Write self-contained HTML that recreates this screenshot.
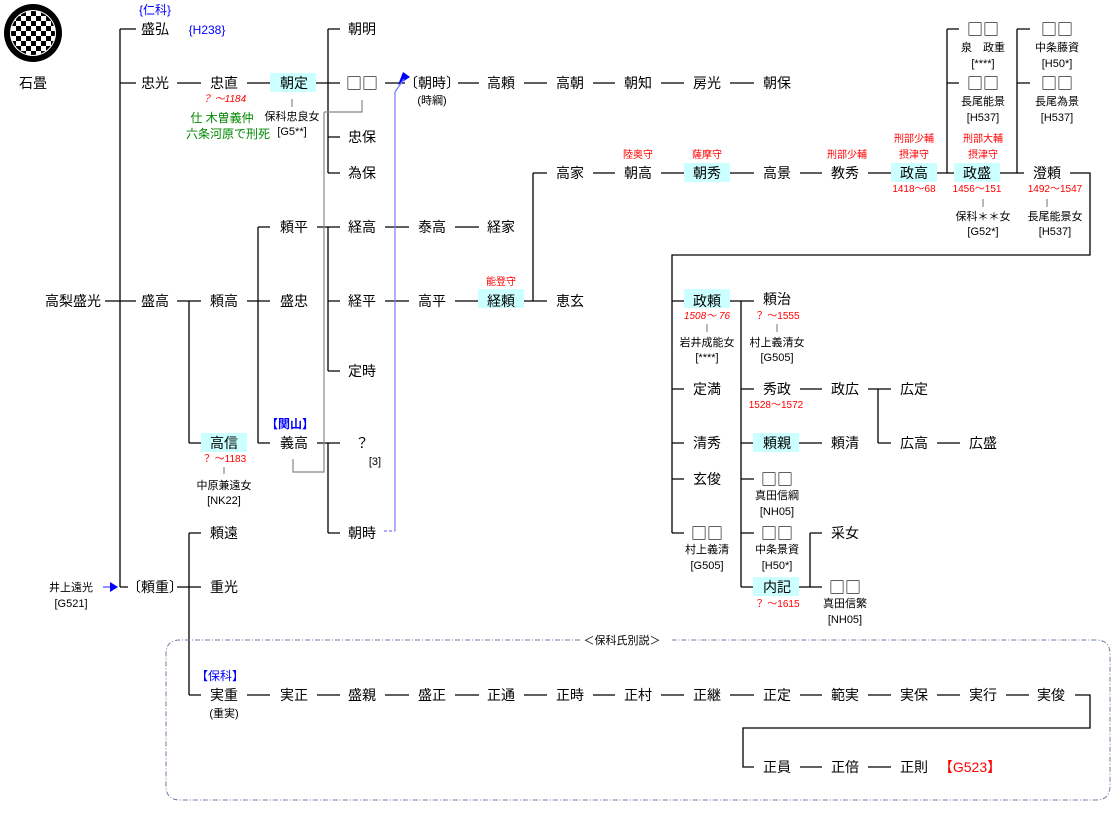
<!DOCTYPE html>
<html><head><meta charset="utf-8"><style>
html,body{margin:0;padding:0;background:#fff;}
svg{display:block;font-family:"Liberation Sans","Noto Sans CJK JP",sans-serif;}
.n{font-size:14px;fill:#000;text-anchor:middle;}
.s{font-size:11px;fill:#000;text-anchor:middle;}
.r{font-size:10px;fill:#f00;text-anchor:middle;}
.ri{font-size:10px;fill:#f00;text-anchor:middle;font-style:italic;}
.b{font-size:12px;fill:#00f;text-anchor:middle;}
.g{font-size:12px;fill:#080;text-anchor:middle;}
.q{font-family:"Noto Sans CJK JP",sans-serif;font-size:16px;fill:#000;text-anchor:middle;}
.l{stroke:#000;stroke-width:1.3;fill:none;}
.gr{stroke:#888;stroke-width:1.2;fill:none;}
.hl{fill:#ccffff;}
</style></head><body>
<svg width="1115" height="821" viewBox="0 0 1115 821" xmlns="http://www.w3.org/2000/svg">
<defs><clipPath id="cc"><circle cx="33" cy="33" r="22"/></clipPath>
<pattern id="ck" x="11" y="11" width="10" height="10" patternUnits="userSpaceOnUse"><rect width="10" height="10" fill="#fff"/><rect width="5" height="5" fill="#000"/><rect x="5" y="5" width="5" height="5" fill="#000"/></pattern></defs>
<circle cx="33" cy="33" r="29" fill="#000"/>
<circle cx="33" cy="33" r="23" fill="#fff"/>
<rect x="10" y="10" width="46" height="46" fill="url(#ck)" clip-path="url(#cc)"/>
<text class="n" x="33" y="88" font-size="13">石畳</text>

<rect class="hl" x="270" y="73" width="46" height="19"/>
<rect class="hl" x="684" y="163" width="46" height="19"/>
<rect class="hl" x="891" y="163" width="46" height="19"/>
<rect class="hl" x="954" y="163" width="46" height="19"/>
<rect class="hl" x="478" y="289" width="46" height="19"/>
<rect class="hl" x="684" y="289" width="46" height="19"/>
<rect class="hl" x="201" y="433" width="46" height="19"/>
<rect class="hl" x="753" y="433" width="46" height="19"/>
<rect class="hl" x="753" y="577" width="46" height="19"/>

<g class="l">
<path d="M120 29V587"/>
<path d="M120 29H136M120 83H136M105 301H136M120 587H128"/>
<path d="M177 83H201M247 83H270M316 83H340M385 83H405M458 83H479M524 83H547M593 83H615M661 83H684M730 83H754"/>
<path d="M328 29V173M328 29H340M328 137H340M328 173H340"/>
<path d="M533 173V301M533 173H547M524 301H547"/>
<path d="M593 173H615M661 173H684M730 173H754M800 173H822M868 173H891M937 173H954M1000 173H1024M1070 173H1090V255H672V533"/>
<path d="M947 29V173M947 29H959M947 83H959M1017 29V173M1017 29H1030M1017 83H1030"/>
<path d="M177 301H201M189 301V443M189 443H201M247 301H270M258 227V443M258 227H270M258 443H270"/>
<path d="M317 227H340M328 227V371M328 301H340M328 371H340M385 227H409M455 227H479M385 301H409M455 301H478"/>
<path d="M317 443H340M328 443V533M328 533H340"/>
<path d="M177 587H201M189 533V695M189 533H201M189 695H201"/>
<path d="M247 695H270M317 695H340M385 695H409M455 695H479M524 695H547M593 695H615M661 695H684M730 695H754M800 695H822M868 695H891M937 695H960M1006 695H1029M1075 695H1090V728H743V767H754M800 767H822M868 767H891"/>
<path d="M672 301H684M672 389H684M672 443H684M672 479H684M672 533H684"/>
<path d="M730 301H754M741 301V587M741 389H754M741 443H753M741 479H754M741 533H754M741 587H753"/>
<path d="M800 389H822M868 389H891M878 389V443M878 443H891M937 443H960M799 443H822"/>
<path d="M799 587H822M810 533V587M810 533H822"/>
</g>
<g class="gr">
<path d="M292 99V107M362 100V112H324M324 112V472H293V459"/>
<path d="M224 467V474M707 324V332M777 324V332M983 199V207M1047 199V207"/>
</g>
<path d="M395 531V92" stroke="#7777ff" stroke-width="1.2" fill="none"/>
<path d="M384 531H395" stroke="#7777ff" stroke-width="1.2" stroke-dasharray="3,2" fill="none"/>
<path d="M403 72L410 77L398 85Z" fill="#00f"/>
<path d="M395 92L404 79" stroke="#7777ff" stroke-width="1.2"/>
<path d="M103 587H112" stroke="#44f" stroke-width="1.2"/>
<path d="M110 582L118 587L110 592Z" fill="#00f"/>
<path d="M580 640H180Q166 640 166 654V786Q166 800 180 800H1096Q1110 800 1110 786V654Q1110 640 1096 640H672" stroke="#6b7fa0" stroke-width="1" stroke-dasharray="5,2,1,2" fill="none"/>
<text class="s" x="622" y="644">＜保科氏別説＞</text>

<text class="b" x="155" y="14" font-size="11">{仁科}</text>
<text class="n" x="155" y="34">盛弘</text>
<text class="b" x="207" y="34" font-size="13">{H238}</text>
<text class="n" x="362" y="34">朝明</text>
<text class="n" x="155" y="88">忠光</text>
<text class="n" x="224" y="88">忠直</text>
<text class="n" x="294" y="88">朝定</text>
<text class="q" x="362" y="89">□□</text>
<text class="n" x="432" y="88">〔朝時〕</text>
<text class="s" x="432" y="104">(時綱)</text>
<text class="n" x="501" y="88">高頼</text>
<text class="n" x="570" y="88">高朝</text>
<text class="n" x="638" y="88">朝知</text>
<text class="n" x="707" y="88">房光</text>
<text class="n" x="777" y="88">朝保</text>
<text class="ri" x="224" y="102">？ ～1184</text>
<text class="s" x="292" y="120" font-size="12">保科忠良女</text>
<text class="s" x="292" y="135">[G5**]</text>
<text class="g" x="222" y="122">仕 木曽義仲</text>
<text class="g" x="228" y="138">六条河原で刑死</text>
<text class="n" x="362" y="142">忠保</text>
<text class="n" x="362" y="178">為保</text>

<text class="q" x="983" y="35">□□</text>
<text class="s" x="983" y="51" font-size="12">泉　政重</text>
<text class="s" x="983" y="67">[****]</text>
<text class="q" x="983" y="89">□□</text>
<text class="s" x="983" y="105" font-size="12">長尾能景</text>
<text class="s" x="983" y="121">[H537]</text>
<text class="q" x="1057" y="35">□□</text>
<text class="s" x="1057" y="51" font-size="12">中条藤資</text>
<text class="s" x="1057" y="67">[H50*]</text>
<text class="q" x="1057" y="89">□□</text>
<text class="s" x="1057" y="105" font-size="12">長尾為景</text>
<text class="s" x="1057" y="121">[H537]</text>

<text class="r" x="914" y="142">刑部少輔</text>
<text class="r" x="914" y="158">摂津守</text>
<text class="r" x="983" y="142">刑部大輔</text>
<text class="r" x="983" y="158">摂津守</text>
<text class="r" x="847" y="158">刑部少輔</text>
<text class="r" x="638" y="158">陸奥守</text>
<text class="r" x="707" y="158">薩摩守</text>
<text class="n" x="570" y="178">高家</text>
<text class="n" x="638" y="178">朝高</text>
<text class="n" x="707" y="178">朝秀</text>
<text class="n" x="777" y="178">高景</text>
<text class="n" x="845" y="178">教秀</text>
<text class="n" x="914" y="178">政高</text>
<text class="n" x="977" y="178">政盛</text>
<text class="n" x="1047" y="178">澄頼</text>
<text class="r" x="914" y="192">1418～68</text>
<text class="r" x="977" y="192">1456～151</text>
<text class="r" x="1055" y="192">1492～1547</text>
<text class="s" x="983" y="220" font-size="12">保科＊＊女</text>
<text class="s" x="983" y="235">[G52*]</text>
<text class="s" x="1055" y="220" font-size="12">長尾能景女</text>
<text class="s" x="1055" y="235">[H537]</text>

<text class="n" x="294" y="232">頼平</text>
<text class="n" x="362" y="232">経高</text>
<text class="n" x="432" y="232">泰高</text>
<text class="n" x="501" y="232">経家</text>
<text class="r" x="501" y="285">能登守</text>
<text class="n" x="73" y="306">高梨盛光</text>
<text class="n" x="155" y="306">盛高</text>
<text class="n" x="224" y="306">頼高</text>
<text class="n" x="294" y="306">盛忠</text>
<text class="n" x="362" y="306">経平</text>
<text class="n" x="432" y="306">高平</text>
<text class="n" x="501" y="306">経頼</text>
<text class="n" x="570" y="306">恵玄</text>
<text class="n" x="362" y="376">定時</text>

<text class="n" x="707" y="306">政頼</text>
<text class="ri" x="707" y="319">1508～ 76</text>
<text class="s" x="707" y="346" font-size="12">岩井成能女</text>
<text class="s" x="707" y="361">[****]</text>
<text class="n" x="777" y="304">頼治</text>
<text class="r" x="777" y="319">？ ～1555</text>
<text class="s" x="777" y="346" font-size="12">村上義清女</text>
<text class="s" x="777" y="361">[G505]</text>
<text class="n" x="707" y="394">定満</text>
<text class="n" x="777" y="394">秀政</text>
<text class="r" x="776" y="408">1528～1572</text>
<text class="n" x="845" y="394">政広</text>
<text class="n" x="914" y="394">広定</text>
<text class="n" x="707" y="448">清秀</text>
<text class="n" x="777" y="448">頼親</text>
<text class="n" x="845" y="448">頼清</text>
<text class="n" x="914" y="448">広高</text>
<text class="n" x="983" y="448">広盛</text>
<text class="n" x="707" y="484">玄俊</text>
<text class="q" x="777" y="485">□□</text>
<text class="s" x="777" y="499" font-size="12">真田信綱</text>
<text class="s" x="777" y="515">[NH05]</text>
<text class="q" x="707" y="539">□□</text>
<text class="s" x="707" y="553" font-size="12">村上義清</text>
<text class="s" x="707" y="569">[G505]</text>
<text class="q" x="777" y="539">□□</text>
<text class="s" x="777" y="553" font-size="12">中条景資</text>
<text class="s" x="777" y="569">[H50*]</text>
<text class="n" x="845" y="538">采女</text>
<text class="n" x="777" y="592">内記</text>
<text class="r" x="777" y="607">？ ～1615</text>
<text class="q" x="845" y="593">□□</text>
<text class="s" x="845" y="607" font-size="12">真田信繁</text>
<text class="s" x="845" y="623">[NH05]</text>

<text class="b" x="290" y="428" font-weight="bold">【関山】</text>
<text class="n" x="224" y="448">高信</text>
<text class="r" x="224" y="462">？ ～1183</text>
<text class="s" x="224" y="489" font-size="12">中原兼遠女</text>
<text class="s" x="224" y="504">[NK22]</text>
<text class="n" x="294" y="448">義高</text>
<text class="n" x="362" y="448">？</text>
<text class="s" x="375" y="465">[3]</text>
<text class="n" x="224" y="538">頼遠</text>
<text class="n" x="362" y="538">朝時</text>
<text class="s" x="71" y="591" font-size="12">井上遠光</text>
<text class="s" x="71" y="607">[G521]</text>
<text class="n" x="155" y="592">〔頼重〕</text>
<text class="n" x="224" y="592">重光</text>

<text class="b" x="220" y="680">【保科】</text>
<text class="n" x="224" y="700">実重</text>
<text class="s" x="224" y="717" font-size="12">(重実)</text>
<text class="n" x="294" y="700">実正</text>
<text class="n" x="362" y="700">盛親</text>
<text class="n" x="432" y="700">盛正</text>
<text class="n" x="501" y="700">正通</text>
<text class="n" x="570" y="700">正時</text>
<text class="n" x="638" y="700">正村</text>
<text class="n" x="707" y="700">正継</text>
<text class="n" x="777" y="700">正定</text>
<text class="n" x="845" y="700">範実</text>
<text class="n" x="914" y="700">実保</text>
<text class="n" x="983" y="700">実行</text>
<text class="n" x="1051" y="700">実俊</text>
<text class="n" x="777" y="772">正員</text>
<text class="n" x="845" y="772">正倍</text>
<text class="n" x="914" y="772">正則</text>
<text class="n" x="970" y="772" style="fill:#f00">【G523】</text>
</svg>
</body></html>
